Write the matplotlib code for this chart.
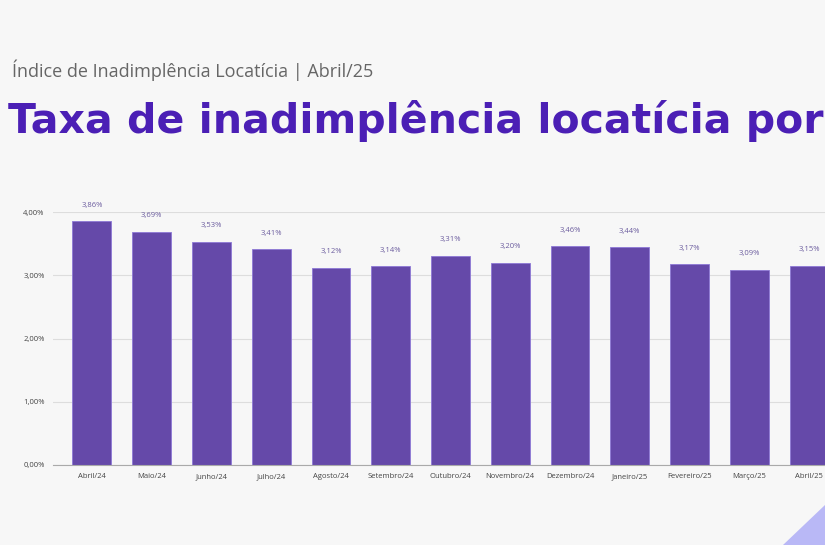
import matplotlib.pyplot as plt
from matplotlib.patches import Polygon

meses = ["Abril/24", "Maio/24", "Junho/24", "Julho/24", "Agosto/24", "Setembro/24",
         "Outubro/24", "Novembro/24", "Dezembro/24", "Janeiro/25", "Fevereiro/25",
         "Março/25", "Abril/25"]
taxas = [3.86, 3.69, 3.53, 3.41, 3.12, 3.14, 3.31, 3.20, 3.46, 3.44, 3.17, 3.09, 3.15]
ticks_y = [0, 1, 2, 3, 4]

fundo = "#f7f7f7"
roxo = "#6549a9"

fig = plt.figure(figsize=(8.25, 5.45), dpi=100, facecolor=fundo)
plt.rcParams["font.family"] = ["Open Sans", "DejaVu Sans"]

# axes deliberately runs past the right edge, like the cropped original
ax = fig.add_axes([53 / 825, 80 / 545, 795 / 825, 253 / 545])
ax.set_facecolor(fundo)
x = list(range(len(meses)))
ax.bar(x, taxas, width=0.65, color=roxo, edgecolor="#8d78d6", linewidth=0.6, zorder=3)
for xi, v in zip(x, taxas):
    ax.text(xi, v + 0.25, "{:.2f}%".format(v).replace(".", ","), ha="center", va="center",
            fontsize=5.5, color="#6b5c9e", zorder=4)

ax.set_xlim(-0.65, len(meses) - 0.35)
ax.set_ylim(0, 4)
ax.set_yticks(ticks_y)
ax.set_yticklabels(["{:.2f}%".format(t).replace(".", ",") for t in ticks_y], fontsize=5.5, color="#444444")
ax.set_xticks(x)
ax.set_xticklabels(meses, fontsize=5.5, color="#444444")
ax.tick_params(axis="both", length=0, pad=6)
ax.yaxis.grid(True, color="#dddddd", linewidth=0.8, zorder=0)
for s in ["top", "right", "left"]:
    ax.spines[s].set_visible(False)
ax.spines["bottom"].set_color("#aaaaaa")
ax.spines["bottom"].set_zorder(5)

fig.text(12 / 825, 1 - 70 / 545, "Índice de Inadimplência Locatícia | Abril/25", fontsize=13,
         color="#666666", va="center", ha="left")
fig.text(8 / 825, 1 - 121 / 545, "Taxa de inadimplência locatícia por", fontsize=29.5,
         fontweight="bold", color="#4b1fb5", va="center", ha="left", family="DejaVu Sans")

tri = Polygon([[783 / 825, 0], [825 / 825, 0], [825 / 825, 40 / 545]], closed=True,
              transform=fig.transFigure, facecolor="#b9b8f6", edgecolor="none")
fig.patches.append(tri)

fig.savefig("out.png", dpi=100, facecolor=fundo)
